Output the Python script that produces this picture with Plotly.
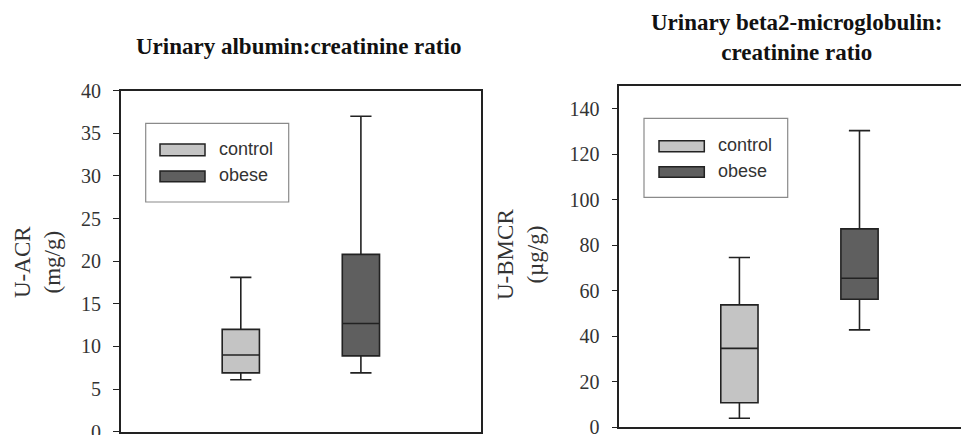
import plotly.graph_objects as go

# ---------------- data ----------------
groups = ["control", "obese"]
group_pos = [1, 2]
fill_colors = ["#c4c4c4", "#5f5f5f"]

# Urinary albumin:creatinine ratio (mg/g)
acr_lower = [6.1, 6.9]
acr_q1 = [6.9, 8.9]
acr_median = [9.0, 12.7]
acr_q3 = [12.0, 20.8]
acr_upper = [18.1, 37.0]
acr_ticks = [0, 5, 10, 15, 20, 25, 30, 35, 40]

# Urinary beta2-microglobulin:creatinine ratio (ug/g)
bmcr_lower = [4.0, 42.8]
bmcr_q1 = [10.8, 56.3]
bmcr_median = [34.7, 65.5]
bmcr_q3 = [53.8, 87.2]
bmcr_upper = [74.6, 130.4]
bmcr_ticks = [0, 20, 40, 60, 80, 100, 120, 140]

panel_titles = ["Urinary albumin:creatinine ratio",
                "Urinary beta2-microglobulin:<br>creatinine ratio"]
y_titles = ["U-ACR<br>(mg/g)", "U-BMCR<br>(µg/g)"]

# ---------------- layout helpers ----------------
W, H = 969, 435
OFF = 8  # page body margin
def fx(x):
    return (x - OFF) / W
def fy(y):
    return 1 - (y - OFF) / H

SERIF = "Liberation Serif, Times New Roman, serif"
SANS = "Liberation Sans, Arial, sans-serif"
LINE = "#222222"

fig = go.Figure()

panels = [
    dict(xa="x", ya="y", lower=acr_lower, q1=acr_q1, med=acr_median, q3=acr_q3, upper=acr_upper),
    dict(xa="x2", ya="y2", lower=bmcr_lower, q1=bmcr_q1, med=bmcr_median, q3=bmcr_q3, upper=bmcr_upper),
]

for p in panels:
    for i, g in enumerate(groups):
        fig.add_trace(go.Box(
            x=[group_pos[i]],
            q1=[p["q1"][i]], median=[p["med"][i]], q3=[p["q3"][i]],
            lowerfence=[p["lower"][i]], upperfence=[p["upper"][i]],
            width=0.31, whiskerwidth=0.57,
            fillcolor=fill_colors[i],
            line=dict(color=LINE, width=1.6),
            boxpoints=False, showlegend=False, name=g,
            xaxis=p["xa"], yaxis=p["ya"],
        ))

# panel geometry in pixels (reference picture)
L = dict(x0=120.7, x1=481.0, y0=90.7, y1=431.7)
R = dict(x0=619.3, x1=969.0, y0=86.0, y1=427.3)
unit_px = (L["x1"] - L["x0"]) / 3.0
r_xmax = (R["x1"] - R["x0"]) / unit_px

tickfont = dict(family=SERIF, size=20, color="#333333")
common_y = dict(showline=True, linecolor=LINE, linewidth=1.6, ticks="outside",
                ticklen=6, tickwidth=1.4, tickcolor=LINE, showgrid=False,
                zeroline=False, tickfont=tickfont, ticklabelstandoff=8, automargin=False)
common_x = dict(showline=True, linecolor=LINE, linewidth=1.6, mirror=True,
                showticklabels=False, ticks="", showgrid=False, zeroline=False,
                automargin=False)

fig.update_layout(
    width=W, height=H,
    margin=dict(l=0, r=0, t=0, b=0, autoexpand=False),
    paper_bgcolor="white", plot_bgcolor="white",
    showlegend=False,
    xaxis=dict(domain=[fx(L["x0"]), fx(L["x1"])], range=[0, 3], anchor="y", **common_x),
    yaxis=dict(domain=[fy(L["y1"]), fy(L["y0"])], range=[0, 40], tickvals=acr_ticks,
               anchor="x", mirror=True, **common_y),
    xaxis2=dict(domain=[fx(R["x0"]), fx(R["x1"])], range=[0, r_xmax], anchor="y2", **common_x),
    yaxis2=dict(domain=[fy(R["y1"]), fy(R["y0"])], range=[0, 150], tickvals=bmcr_ticks,
                anchor="x2", mirror=False, **common_y),
)

annotations = []
# panel titles
annotations.append(dict(text="<b>" + panel_titles[0] + "</b>", x=fx(298), y=fy(46),
                        xref="paper", yref="paper", showarrow=False,
                        xanchor="center", yanchor="middle",
                        font=dict(family=SERIF, size=23, color="#111111")))
annotations.append(dict(text="<b>" + panel_titles[1].replace("<br>", "</b><br><b>") + "</b>",
                        x=fx(797), y=fy(37.5), xref="paper", yref="paper", showarrow=False,
                        xanchor="center", yanchor="middle",
                        font=dict(family=SERIF, size=23, color="#111111")))
# y-axis titles
annotations.append(dict(text=y_titles[0], x=fx(37), y=fy(262), xref="paper", yref="paper",
                        showarrow=False, textangle=-90, xanchor="center", yanchor="middle",
                        font=dict(family=SERIF, size=23, color="#333333")))
annotations.append(dict(text=y_titles[1], x=fx(521), y=fy(255), xref="paper", yref="paper",
                        showarrow=False, textangle=-90, xanchor="center", yanchor="middle",
                        font=dict(family=SERIF, size=23, color="#333333")))

shapes = []
# legends (one per panel)
legend_boxes = [
    dict(bx0=145.7, bx1=288.7, by0=123.3, by1=202.0, sx0=160, sx1=205,
         rows=[(144.0, 155.7), (171.0, 181.7)], tx=216.7),
    dict(bx0=644.0, bx1=787.7, by0=118.3, by1=197.3, sx0=659, sx1=704.3,
         rows=[(140.7, 151.7), (166.7, 177.3)], tx=716.0),
]
for lb in legend_boxes:
    shapes.append(dict(type="rect", xref="paper", yref="paper",
                       x0=fx(lb["bx0"]), x1=fx(lb["bx1"]), y0=fy(lb["by1"]), y1=fy(lb["by0"]),
                       line=dict(color="#8a8a8a", width=1.2), fillcolor="white", layer="below"))
    for i, g in enumerate(groups):
        r0, r1 = lb["rows"][i]
        shapes.append(dict(type="rect", xref="paper", yref="paper",
                           x0=fx(lb["sx0"]), x1=fx(lb["sx1"]), y0=fy(r1), y1=fy(r0),
                           line=dict(color=LINE, width=1.5), fillcolor=fill_colors[i]))
        annotations.append(dict(text=g, x=fx(lb["tx"]), y=fy((r0 + r1) / 2 - 1),
                                xref="paper", yref="paper", xanchor="left", yanchor="middle",
                                showarrow=False,
                                font=dict(family=SANS, size=18, color="#333333")))

fig.update_layout(annotations=annotations, shapes=shapes)
fig.write_html("out.html")
